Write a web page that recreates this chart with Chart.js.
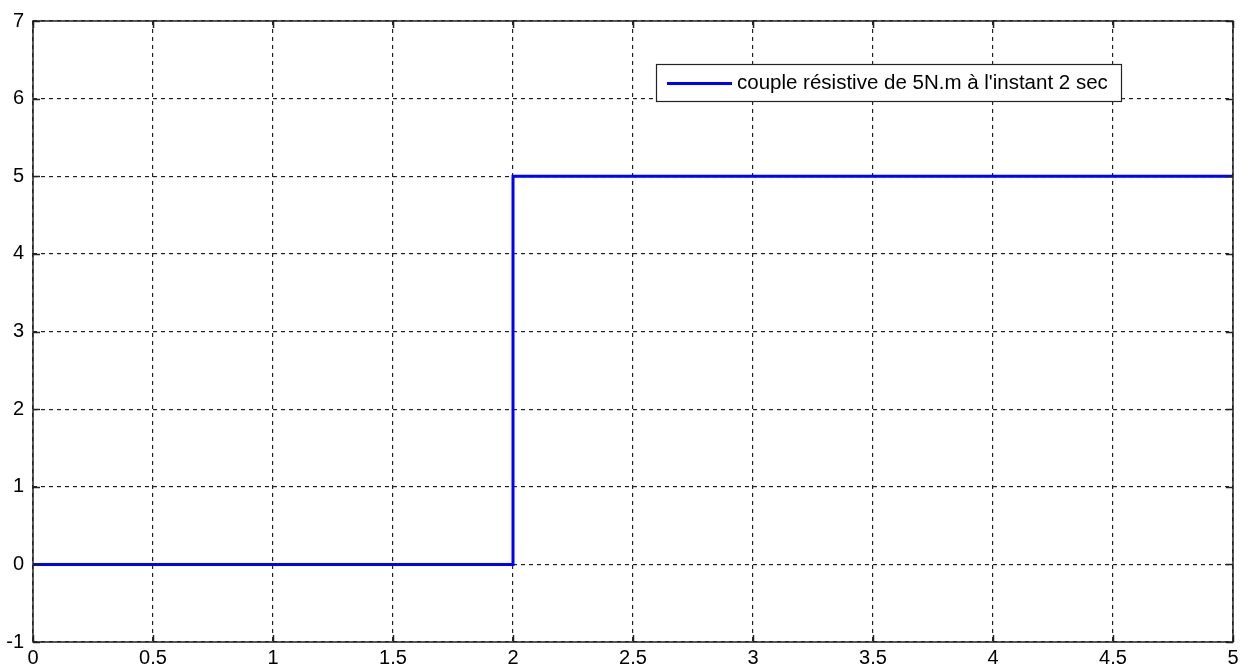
<!DOCTYPE html>
<html>
<head>
<meta charset="utf-8">
<script src="https://cdn.jsdelivr.net/npm/chart.js@4.4.1/dist/chart.umd.min.js"></script>
<style>
  html, body { margin: 0; padding: 0; background: #ffffff; }
  #wrap { width: 1250px; height: 669px; position: relative; }
</style>
</head>
<body>
<div id="wrap"><canvas id="c" width="1250" height="669"></canvas></div>
<script>
// Load torque step: time (s) and torque (N.m)
const timeValues = [0, 2, 2, 5];
const torqueValues = [0, 0, 5, 5];
const seriesLabel = "couple résistive de 5N.m à l'instant 2 sec";
const xTicks = [0, 0.5, 1, 1.5, 2, 2.5, 3, 3.5, 4, 4.5, 5];
const yTicks = [-1, 0, 1, 2, 3, 4, 5, 6, 7];

const FONT = "'Liberation Sans', Arial, sans-serif";

// Solid frame, inward tick marks and boxed legend
const framePlugin = {
  id: 'frame',
  afterDraw(chart) {
    const { ctx, chartArea: a, scales } = chart;
    ctx.save();
    ctx.strokeStyle = '#222';
    ctx.lineWidth = 1.5;
    ctx.setLineDash([]);
    // inward ticks on all sides
    const tl = 7;
    ctx.beginPath();
    xTicks.forEach(v => {
      const px = Math.round(scales.x.getPixelForValue(v)) + 0.5;
      ctx.moveTo(px, a.bottom); ctx.lineTo(px, a.bottom - tl);
      ctx.moveTo(px, a.top); ctx.lineTo(px, a.top + tl);
    });
    yTicks.forEach(v => {
      const py = Math.round(scales.y.getPixelForValue(v)) + 0.5;
      ctx.moveTo(a.left, py); ctx.lineTo(a.left + tl, py);
      ctx.moveTo(a.right, py); ctx.lineTo(a.right - tl, py);
    });
    ctx.stroke();
    ctx.strokeRect(a.left, a.top, a.right - a.left, a.bottom - a.top);

    // legend box
    const ds = chart.data.datasets[0];
    const bx = 656, by = 64, bw = 465, bh = 37;
    ctx.fillStyle = '#fff';
    ctx.fillRect(bx, by, bw, bh);
    ctx.strokeStyle = '#222';
    ctx.lineWidth = 1.2;
    ctx.strokeRect(bx + 0.5, by + 0.5, bw, bh);
    ctx.strokeStyle = ds.borderColor;
    ctx.lineWidth = 3;
    ctx.beginPath();
    ctx.moveTo(bx + 11, by + 19.5);
    ctx.lineTo(bx + 76, by + 19.5);
    ctx.stroke();
    ctx.fillStyle = '#000';
    ctx.font = '20.5px ' + FONT;
    ctx.textBaseline = 'middle';
    ctx.textAlign = 'left';
    ctx.fillText(ds.label, bx + 81, by + 19);
    ctx.restore();
  }
};

new Chart(document.getElementById('c'), {
  type: 'scatter',
  data: {
    datasets: [{
      label: seriesLabel,
      data: timeValues.map((t, i) => ({ x: t, y: torqueValues[i] })),
      showLine: true,
      borderColor: '#0000ff',
      backgroundColor: '#0000ff',
      borderWidth: 3,
      pointRadius: 0,
      tension: 0
    }]
  },
  options: {
    responsive: false,
    animation: false,
    layout: { padding: { left: 0, right: 17, top: 19, bottom: 0 } },
    plugins: { legend: { display: false }, tooltip: { enabled: false } },
    scales: {
      x: {
        type: 'linear',
        min: 0, max: 5,
        afterBuildTicks(s) { s.ticks = xTicks.map(v => ({ value: v })); },
        afterFit(s) { s.height = 27; },
        border: { display: false, dash: [4, 4] },
        grid: { color: '#222', lineWidth: 1.2, drawTicks: false },
        ticks: {
          color: '#000', font: { family: FONT, size: 20 }, padding: 4,
          maxRotation: 0, autoSkip: false,
          callback: v => String(v)
        }
      },
      y: {
        type: 'linear',
        min: -1, max: 7,
        afterBuildTicks(s) { s.ticks = yTicks.map(v => ({ value: v })); },
        afterFit(s) { s.width = 33; },
        border: { display: false, dash: [4, 4] },
        grid: { color: '#222', lineWidth: 1.2, drawTicks: false },
        ticks: {
          color: '#000', font: { family: FONT, size: 20 }, padding: 9,
          autoSkip: false,
          callback: v => String(v)
        }
      }
    }
  },
  plugins: [framePlugin]
});
</script>
</body>
</html>
